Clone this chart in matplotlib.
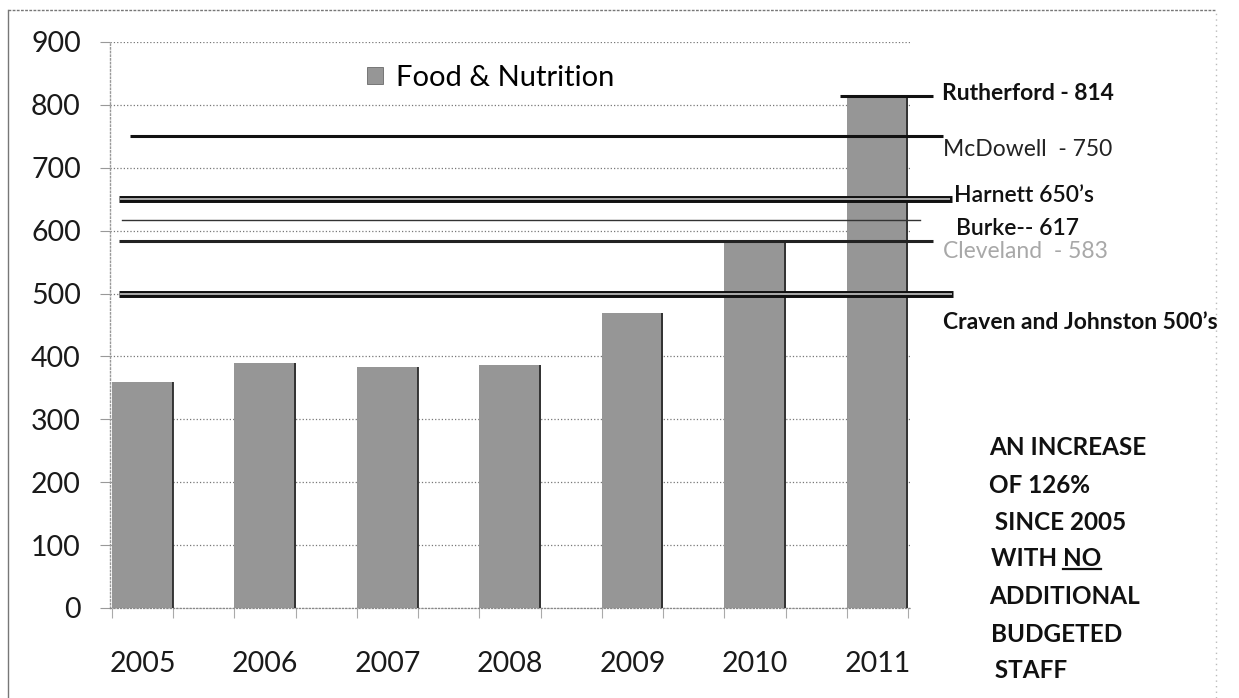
"""
Food & Nutrition staff caseload per year, with county comparison lines.
"""

import matplotlib
matplotlib.use("Agg")
import matplotlib.pyplot as plt
import numpy as np
from matplotlib import transforms
from matplotlib.lines import Line2D
from matplotlib.patches import Patch


YEARS = ["2005", "2006", "2007", "2008", "2009", "2010", "2011"]
CASELOAD = [359, 390, 383, 387, 469, 585, 814]

COUNTY_NAMES = ["Rutherford", "McDowell", "Harnett", "Burke", "Cleveland", "Craven and Johnston"]
COUNTY_LEVELS = [814, 750, 650, 617, 583, 500]
COUNTY_LABELS = [
    "Rutherford - 814",
    "McDowell  - 750",
    "Harnett 650\u2019s",
    "Burke-- 617",
    "Cleveland  - 583",
    "Craven and Johnston 500\u2019s",
]

NOTE_LINES = ["AN INCREASE", "OF 126%", " SINCE 2005", "WITH ", "ADDITIONAL", "BUDGETED", " STAFF"]

W, H = 1239, 698
FONT = ["Lato", "DejaVu Sans"]
BAR_GREY = "#969696"

# how each county line is drawn: (x start, x end) in axes fraction, kind, colour,
# label position in pixels (left, baseline), label weight, label colour
COUNTY_STYLE = [
    ((0.9125, 1.029), "single", "#111111", (942, 100), "bold", "#111111"),
    ((0.025, 1.041), "single", "#111111", (943, 156), "normal", "#222222"),
    ((0.011, 1.0525), "double", "#111111", (954, 202), "semibold", "#111111"),
    ((0.015, 1.0125), "thin", "#333333", (956, 235), "semibold", "#111111"),
    ((0.011, 1.029), "single", "#222222", (943, 258), "normal", "#a8a8a8"),
    ((0.011, 1.054), "double", "#111111", (943, 329), "bold", "#111111"),
]


def fig_xy(x_px, y_px):
    return x_px / W, 1 - y_px / H


def main() -> None:
    plt.rcParams["font.family"] = FONT

    fig = plt.figure(figsize=(W / 100, H / 100), dpi=100)
    ax = fig.add_axes([110 / W, 90 / H, 800 / W, 566 / H])

    x = np.arange(len(YEARS))
    ax.bar(x, CASELOAD, width=0.5, color=BAR_GREY, zorder=2)
    # darker right-hand edge on each column
    ax.vlines(x + 0.245, 0, CASELOAD, colors="#2a2a2a", lw=1.3, zorder=3)

    ax.set_xlim(-0.266, len(YEARS) - 1 + 0.266)
    ax.set_ylim(0, 900)
    ax.set_yticks(range(0, 901, 100))
    ax.set_xticks(x, YEARS)
    ax.set_xticks(np.concatenate([x - 0.25, x + 0.25]), minor=True)

    ax.grid(axis="y", linestyle=":", color="#777777", lw=0.9)
    ax.set_axisbelow(True)

    ax.tick_params(axis="y", length=7, width=0.8, color="#999999", pad=14,
                   labelsize=20.5, labelcolor="#1a1a1a")
    ax.tick_params(axis="x", which="major", length=0, pad=31,
                   labelsize=20.5, labelcolor="#1a1a1a")
    ax.tick_params(axis="x", which="minor", length=7, width=0.8, color="#aaaaaa")

    for side in ("top", "right"):
        ax.spines[side].set_visible(False)
    ax.spines["left"].set(color="#999999", linestyle=":", lw=1.0)
    ax.spines["bottom"].set(color="#888888", linestyle=":", lw=0.9)

    # county comparison lines, y from the data, x span in axes fraction
    blend = transforms.blended_transform_factory(ax.transAxes, ax.transData)
    for level, label, style in zip(COUNTY_LEVELS, COUNTY_LABELS, COUNTY_STYLE):
        (x0, x1), kind, color, (tx, ty), weight, tcolor = style
        if kind == "double":
            ax.plot([x0, x1], [level, level], transform=blend, clip_on=False,
                    color=color, lw=5.0, solid_capstyle="butt", zorder=4)
            ax.plot([x0 + 0.002, x1 - 0.002], [level, level], transform=blend,
                    clip_on=False, color="#d5d5d5", lw=1.1,
                    solid_capstyle="butt", zorder=5)
        elif kind == "thin":
            ax.plot([x0, x1], [level, level], transform=blend, clip_on=False,
                    color=color, lw=1.0, zorder=4)
        else:
            ax.plot([x0, x1], [level, level], transform=blend, clip_on=False,
                    color=color, lw=2.2, solid_capstyle="butt", zorder=4)
        fig.text(*fig_xy(tx, ty), label, fontsize=16.5, fontweight=weight,
                 color=tcolor, va="baseline", ha="left")

    # legend
    ax.legend(handles=[Patch(facecolor=BAR_GREY, edgecolor="#555555", lw=0.5)],
              labels=["Food & Nutrition"], frameon=False, fontsize=21,
              handlelength=0.55, handleheight=0.55, handletextpad=0.45,
              borderpad=0, borderaxespad=0, loc="center left",
              bbox_to_anchor=fig_xy(367, 78), bbox_transform=fig.transFigure)

    # side note
    note_x = [989, 989, 989, 991, 989, 991, 989]
    note_base = [455, 493, 530, 566, 604, 642, 678]
    for text, nx, ny in zip(NOTE_LINES, note_x, note_base):
        t = fig.text(*fig_xy(nx, ny), text, fontsize=17.5, fontweight="bold",
                     color="#111111", va="baseline", ha="left")
        if text == "WITH ":
            fig.canvas.draw()
            renderer = fig.canvas.get_renderer()
            bb = t.get_window_extent(renderer)
            no = fig.text(bb.x1 / W, 1 - ny / H, "NO", fontsize=17.5,
                          fontweight="bold", color="#111111",
                          va="baseline", ha="left")
            nb = no.get_window_extent(renderer)
            fig.add_artist(Line2D([nb.x0 / W, nb.x1 / W],
                                  [(nb.y0 + 1) / H, (nb.y0 + 1) / H],
                                  transform=fig.transFigure,
                                  color="#111111", lw=1.6))

    # outer chart border
    border = dict(transform=fig.transFigure, lw=1.0)
    fig.add_artist(Line2D([8 / W, 8 / W], [0, 1 - 10 / H], color="#777777", **border))
    fig.add_artist(Line2D([8 / W, 1216 / W], [1 - 10 / H, 1 - 10 / H],
                          color="#777777", linestyle=(0, (2, 1)), **border))
    fig.add_artist(Line2D([1216 / W, 1216 / W], [0, 1 - 10 / H],
                          color="#bbbbbb", linestyle=(0, (1, 3)), **border))

    fig.savefig("out.png", dpi=100)
    plt.close(fig)


if __name__ == "__main__":
    main()
